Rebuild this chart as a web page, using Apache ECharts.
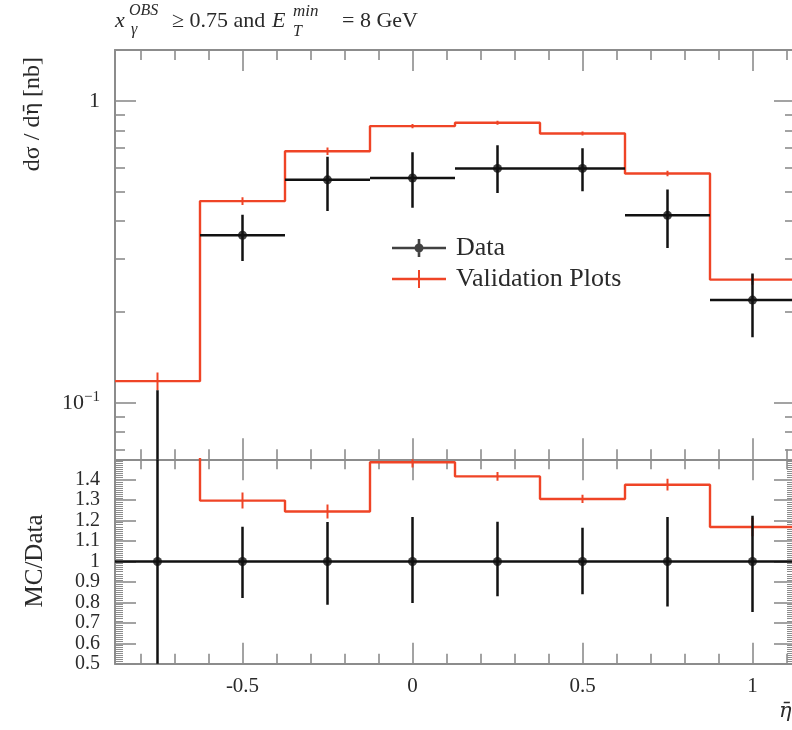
<!DOCTYPE html>
<html>
<head>
<meta charset="utf-8">
<script src="https://cdn.jsdelivr.net/npm/echarts@6/dist/echarts.min.js"></script>
<style>
  html, body { margin: 0; padding: 0; background: #ffffff; }
  #chart { width: 792px; height: 730px; }
</style>
</head>
<body>
<div id="chart"></div>
<script>
// Binning in eta-bar
const binEdges   = [-0.875, -0.625, -0.375, -0.125, 0.125, 0.375, 0.625, 0.875, 1.125];
const binCenters = [-0.75, -0.5, -0.25, 0, 0.25, 0.5, 0.75, 1.0];

// Measured cross section dsigma/deta-bar [nb] with asymmetric errors
const dataValues  = [0.050, 0.359, 0.548, 0.556, 0.598, 0.598, 0.418, 0.219];
const dataErrUp   = [0.060, 0.061, 0.106, 0.121, 0.116, 0.099, 0.091, 0.049];
const dataErrDown = [0.046, 0.064, 0.116, 0.113, 0.102, 0.096, 0.092, 0.054];

// Monte Carlo prediction ("Validation Plots") and its statistical error
const mcValues = [0.118, 0.466, 0.682, 0.826, 0.847, 0.781, 0.575, 0.256];
const mcErr    = [0.008, 0.014, 0.019, 0.014, 0.013, 0.012, 0.012, 0.010];

// Tick positions and labels
const xMajorTicks = [-0.5, 0, 0.5, 1];
const xMinorTicks = [-0.8, -0.7, -0.6, -0.4, -0.3, -0.2, -0.1, 0.1, 0.2, 0.3, 0.4, 0.6, 0.7, 0.8, 0.9, 1.1];
const yMajorTicks = [0.1, 1];
const yMinorTicks = [0.07, 0.08, 0.09, 0.2, 0.3, 0.4, 0.5, 0.6, 0.7, 0.8, 0.9];
const ratioMajorTicks = [0.5, 0.6, 0.7, 0.8, 0.9, 1.0, 1.1, 1.2, 1.3, 1.4];
const ratioMinorTicks = [];
for (let k = 51; k < 150; k++) { if (k % 10 !== 0) ratioMinorTicks.push(k / 100); }

// Axis ranges
const X_MIN = binEdges[0], X_MAX = binEdges[binEdges.length - 1];
const Y_MIN = 0.065, Y_MAX = 1.476;
const R_MIN = 0.5, R_MAX = 1.5;

const RED = '#ef4426';
const BLACK = '#111111';
const FRAME = '#8c8c8c';
const TXT = '#2a2a2a';
const FONT = 'Liberation Serif';
const MARK_FONT = 'DejaVu Serif';

// Derived ratio values
const ratioMC = mcValues.map((v, i) => v / dataValues[i]);
const ratioMCErr = mcErr.map((e, i) => e / dataValues[i]);
const ratioDataUp = dataErrUp.map((e, i) => e / dataValues[i]);
const ratioDataDown = dataErrDown.map((e, i) => e / dataValues[i]);

function stepPoints(values) {
  const pts = values.map((v, i) => [binEdges[i], v]);
  pts.push([binEdges[binEdges.length - 1], values[values.length - 1]]);
  return pts;
}

// Error-bar glyphs: vertical bar at the bin center, optional horizontal bin-width bar
function errorSeries(name, xi, yi, rows, color, width, withBin) {
  return {
    type: 'custom', name: name, xAxisIndex: xi, yAxisIndex: yi, clip: true, silent: true, z: 4,
    data: rows,
    encode: { x: 0, y: 1 },
    renderItem: function (params, api) {
      const c = api.value(0), v = api.value(1), lo = api.value(2), hi = api.value(3);
      const p1 = api.coord([c, lo]), p2 = api.coord([c, hi]);
      const children = [{
        type: 'line', shape: { x1: p1[0], y1: p1[1], x2: p2[0], y2: p2[1] },
        style: { stroke: color, lineWidth: width }
      }];
      if (withBin) {
        const a = api.coord([api.value(4), v]), b = api.coord([api.value(5), v]);
        children.push({
          type: 'line', shape: { x1: a[0], y1: a[1], x2: b[0], y2: b[1] },
          style: { stroke: color, lineWidth: width }
        });
      }
      return { type: 'group', children: children };
    }
  };
}

const tickStyle = { color: FRAME, width: 1.6 };
const labelFont = { fontFamily: FONT, fontSize: 21, color: TXT };

function xAxisDef(grid, position, major, showLabels) {
  return {
    type: 'value', gridIndex: grid, position: position, min: X_MIN, max: X_MAX,
    axisLine: { show: major, onZero: false, lineStyle: { color: FRAME, width: 2 } },
    axisTick: { show: true, inside: true, length: major ? 21 : 10,
                customValues: major ? xMajorTicks : xMinorTicks, lineStyle: tickStyle },
    axisLabel: Object.assign({ show: showLabels, customValues: xMajorTicks, margin: 12,
                formatter: v => String(Math.round(v * 10) / 10) }, labelFont),
    splitLine: { show: false }
  };
}

function yMainDef(position, major, showLabels) {
  return {
    type: 'log', gridIndex: 0, position: position, min: Y_MIN, max: Y_MAX, logBase: 10,
    axisLine: { show: major, onZero: false, lineStyle: { color: FRAME, width: 2 } },
    axisTick: { show: true, inside: true, length: major ? 21 : 10,
                customValues: major ? yMajorTicks : yMinorTicks, lineStyle: tickStyle },
    axisLabel: Object.assign({
      show: showLabels, customValues: yMajorTicks, margin: 15,
      formatter: v => (Math.abs(v - 1) < 1e-9 ? '1' : '10{sup|\u22121}'),
      rich: { sup: { fontFamily: FONT, fontSize: 15, color: TXT, padding: [0, 0, 12, 0] } }
    }, labelFont, { fontSize: 22 }),
    splitLine: { show: false }
  };
}

function yRatioDef(position, major, showLabels) {
  return {
    type: 'value', gridIndex: 1, position: position, min: R_MIN, max: R_MAX,
    axisLine: { show: major, onZero: false, lineStyle: { color: FRAME, width: 2 } },
    axisTick: { show: true, inside: true, length: major ? 21 : 8,
                customValues: major ? ratioMajorTicks : ratioMinorTicks,
                lineStyle: { color: FRAME, width: major ? 1.6 : 1 } },
    axisLabel: Object.assign({ show: showLabels, customValues: ratioMajorTicks, margin: 15,
                formatter: v => String(Math.round(v * 10) / 10) }, labelFont, { fontSize: 20 }),
    splitLine: { show: false }
  };
}

const chart = echarts.init(document.getElementById('chart'), null, { renderer: 'canvas' });

const mainTopRows = binCenters.map((c, i) => [c, mcValues[i], mcValues[i] - mcErr[i], mcValues[i] + mcErr[i]]);
const dataTopRows = binCenters.map((c, i) => [c, dataValues[i], dataValues[i] - dataErrDown[i],
                                             dataValues[i] + dataErrUp[i], binEdges[i], binEdges[i + 1]]);
const mcRatioRows = binCenters.map((c, i) => [c, ratioMC[i], ratioMC[i] - ratioMCErr[i], ratioMC[i] + ratioMCErr[i]]);
const dataRatioRows = binCenters.map((c, i) => [c, 1, 1 - ratioDataDown[i], 1 + ratioDataUp[i], binEdges[i], binEdges[i + 1]]);

const DATA_ICON = 'path://M0 7.7h54v2.6H0z M25.7 0h2.6v18h-2.6z M31.5 9a4.5 4.5 0 1 1 -9 0a4.5 4.5 0 1 1 9 0z';
const MC_ICON = 'path://M0 7.8h54v2.4H0z M26 0h2v18h-2z';

const titleText = (text, left, top, size, italic, family) => ({
  type: 'text', left: left, top: top,
  style: { text: text, fontFamily: family || FONT, fontStyle: italic ? 'italic' : 'normal', fontSize: size, fill: TXT }
});

chart.setOption({
  animation: false,
  backgroundColor: '#ffffff',
  grid: [
    { left: 115, top: 50, width: 680, height: 409.3, outerBoundsMode: 'none', containLabel: false },
    { left: 115, top: 459.3, width: 680, height: 204.4, outerBoundsMode: 'none', containLabel: false }
  ],
  xAxis: [
    xAxisDef(0, 'bottom', true, false),
    xAxisDef(0, 'bottom', false, false),
    xAxisDef(0, 'top', true, false),
    xAxisDef(0, 'top', false, false),
    xAxisDef(1, 'bottom', true, true),
    xAxisDef(1, 'bottom', false, false),
    xAxisDef(1, 'top', true, false),
    xAxisDef(1, 'top', false, false)
  ],
  yAxis: [
    yMainDef('left', true, true),
    yMainDef('left', false, false),
    yMainDef('right', true, false),
    yMainDef('right', false, false),
    yRatioDef('left', true, true),
    yRatioDef('left', false, false),
    yRatioDef('right', true, false),
    yRatioDef('right', false, false)
  ],
  legend: {
    orient: 'vertical', left: 387, top: 230, itemWidth: 54, itemHeight: 18, itemGap: 5,
    selectedMode: false,
    textStyle: { fontFamily: FONT, fontSize: 26, color: TXT, lineHeight: 26, padding: [0, 0, 0, 5] },
    data: [{ name: 'Data', icon: DATA_ICON }, { name: 'Validation Plots', icon: MC_ICON }]
  },
  graphic: [
    // Title: x_gamma^OBS >= 0.75 and E_T^min = 8 GeV
    titleText('x', 115, 10, 22, true),
    titleText('OBS', 129, 3, 16, true),
    titleText('\u03b3', 131, 22, 16, true),
    titleText('\u2265 0.75 and', 172, 10, 22, false),
    titleText('E', 272, 10, 22, true),
    titleText('min', 293, 3, 17, true),
    titleText('T', 293, 24, 16, true),
    titleText('= 8 GeV', 342, 10, 22, false),
    // Axis titles
    { type: 'text', x: 21, y: 57, rotation: Math.PI / 2,
      style: { text: '{a|d\u03c3 / d}{b|\u03b7\u0304}{a| [nb]}', align: 'right', verticalAlign: 'top',
               rich: { a: { fontFamily: FONT, fontSize: 24, fill: TXT, color: TXT },
                       b: { fontFamily: MARK_FONT, fontSize: 21, fill: TXT, color: TXT } } } },
    { type: 'text', x: 23, y: 561, rotation: Math.PI / 2,
      style: { text: 'MC/Data', fontFamily: FONT, fontSize: 25, fill: TXT, align: 'center', verticalAlign: 'top' } },
    { type: 'text', x: 779, y: 701,
      style: { text: '\u03b7\u0304', fontFamily: MARK_FONT, fontStyle: 'italic', fontSize: 21, fill: TXT } }
  ],
  series: [
    {
      name: 'Validation Plots', type: 'line', xAxisIndex: 0, yAxisIndex: 0, step: 'end',
      data: stepPoints(mcValues), symbol: 'none', clip: true, z: 3,
      lineStyle: { color: RED, width: 2.4 }, itemStyle: { color: RED }
    },
    errorSeries('mcErrTop', 0, 0, mainTopRows, RED, 2, false),
    errorSeries('dataErrTop', 0, 0, dataTopRows, BLACK, 2.5, true),
    {
      name: 'Data', type: 'scatter', xAxisIndex: 0, yAxisIndex: 0, clip: true, z: 5,
      data: binCenters.map((c, i) => [c, dataValues[i]]),
      symbol: 'circle', symbolSize: 9, itemStyle: { color: BLACK }
    },
    {
      name: 'ratioMC', type: 'line', xAxisIndex: 4, yAxisIndex: 4, step: 'end',
      data: stepPoints(ratioMC), symbol: 'none', clip: true, z: 3,
      lineStyle: { color: RED, width: 2.4 }, itemStyle: { color: RED }
    },
    errorSeries('mcErrRatio', 4, 4, mcRatioRows, RED, 2, false),
    errorSeries('dataErrRatio', 4, 4, dataRatioRows, BLACK, 2.5, true),
    {
      name: 'ratioData', type: 'scatter', xAxisIndex: 4, yAxisIndex: 4, clip: true, z: 5,
      data: binCenters.map(c => [c, 1]),
      symbol: 'circle', symbolSize: 9, itemStyle: { color: BLACK }
    }
  ]
});
</script>
</body>
</html>
